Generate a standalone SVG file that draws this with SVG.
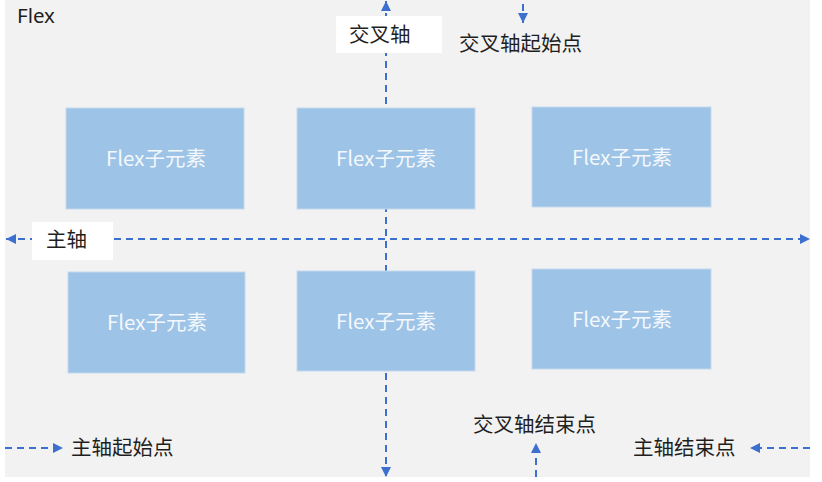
<svg xmlns="http://www.w3.org/2000/svg" width="822" height="482" viewBox="0 0 822 482">
<style>
.bg{fill:#f2f2f2}
.box{fill:#9dc3e6;stroke:#c3d9ef;stroke-width:1}
.bt{font-family:"Noto Sans CJK SC","Noto Sans",sans-serif;font-size:20.5px;fill:#f4f8fc;text-anchor:middle}
.lt{font-family:"Noto Sans CJK SC","Noto Sans",sans-serif;font-size:20.5px;fill:#1f1f1f}
.ft{font-family:"Noto Sans","Noto Sans CJK SC",sans-serif;font-size:20.5px;fill:#1f1f1f}
.lb{fill:#ffffff}
.ax{stroke:#3d6fcf;stroke-width:2;stroke-dasharray:7 5;fill:none}
</style>
<defs>
<marker id="ah" viewBox="0 0 10 10" refX="10" refY="5" markerWidth="10" markerHeight="10" markerUnits="userSpaceOnUse" orient="auto-start-reverse">
<path d="M0,0 L10,5 L0,10 Z" fill="#3d6fcf"/>
</marker>
</defs>
<rect class="bg" x="5" y="0" width="805" height="477"/>
<text class="ft" x="17" y="23">Flex</text>
<g id="connectors">
<line class="ax" x1="386" y1="1" x2="386" y2="477" marker-start="url(#ah)" marker-end="url(#ah)"/>
<line class="ax" x1="6" y1="239" x2="810" y2="239" marker-start="url(#ah)" marker-end="url(#ah)"/>
<line class="ax" x1="523" y1="4" x2="523" y2="23" marker-end="url(#ah)"/>
<line class="ax" x1="5" y1="448" x2="63" y2="448" marker-end="url(#ah)"/>
<line class="ax" x1="536" y1="477" x2="536" y2="443" marker-end="url(#ah)"/>
<line class="ax" x1="810" y1="448" x2="750" y2="448" marker-end="url(#ah)"/>
</g>
<g id="item1"><rect class="box" x="66" y="108" width="178" height="101"/><text class="bt" x="156" y="166">Flex子元素</text></g>
<g id="item2"><rect class="box" x="297" y="108" width="178" height="101"/><text class="bt" x="386" y="166">Flex子元素</text></g>
<g id="item3"><rect class="box" x="532" y="107" width="179" height="100"/><text class="bt" x="622" y="165">Flex子元素</text></g>
<g id="item4"><rect class="box" x="68" y="272" width="177" height="101"/><text class="bt" x="157" y="330">Flex子元素</text></g>
<g id="item5"><rect class="box" x="297" y="271" width="178" height="100"/><text class="bt" x="386" y="329">Flex子元素</text></g>
<g id="item6"><rect class="box" x="532" y="269" width="179" height="100"/><text class="bt" x="622" y="327">Flex子元素</text></g>
<g id="cross-axis-label"><rect class="lb" x="336" y="16" width="106" height="37"/><text class="lt" x="349" y="42">交叉轴</text></g>
<g id="main-axis-label"><rect class="lb" x="32" y="222" width="81" height="38"/><text class="lt" x="46" y="247">主轴</text></g>
<g id="cross-start"><text class="lt" x="459" y="51">交叉轴起始点</text></g>
<g id="cross-end"><text class="lt" x="473" y="432">交叉轴结束点</text></g>
<g id="main-start"><text class="lt" x="71" y="455">主轴起始点</text></g>
<g id="main-end"><text class="lt" x="633" y="455">主轴结束点</text></g>
</svg>
